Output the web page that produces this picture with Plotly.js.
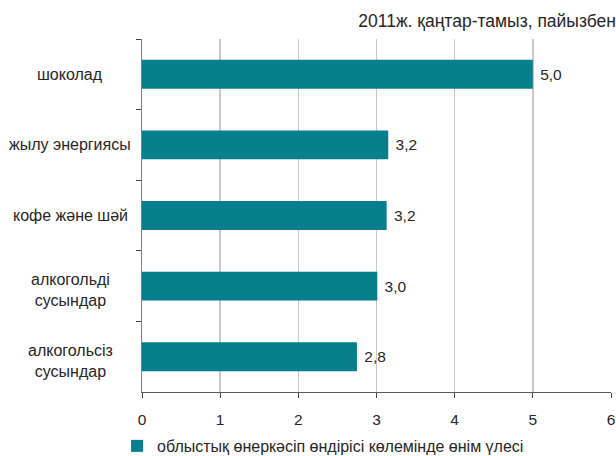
<!DOCTYPE html>
<html>
<head>
<meta charset="utf-8">
<script src="https://cdn.plot.ly/plotly-3.0.1.min.js"></script>
<style>
  html, body { margin: 0; padding: 0; background: #ffffff; }
  #chart { width: 616px; height: 456px; }
</style>
</head>
<body>
<div id="chart"></div>
<script>
// Data
const categories = [
  'шоколад',
  'жылу энергиясы',
  'кофе және шәй',
  'алкогольді<br>сусындар',
  'алкогольсіз<br>сусындар'
];
const values = [5.0, 3.15, 3.13, 3.01, 2.75];
const valueLabels = ['5,0', '3,2', '3,2', '3,0', '2,8'];
const seriesName = 'облыстық өнеркәсіп өндірісі көлемінде өнім үлесі';
const titleText = '2011ж. қаңтар-тамыз, пайызбен';
const xTicks = [0, 1, 2, 3, 4, 5, 6];

const FONT = 'Liberation Sans, Arial, sans-serif';
const TXT = '#262626';
const BAR = '#087f8c';

const trace = {
  type: 'bar',
  orientation: 'h',
  x: values,
  y: categories,
  name: seriesName,
  text: valueLabels,
  texttemplate: '\u00a0%{text}',
  textposition: 'outside',
  cliponaxis: false,
  textfont: { family: FONT, size: 15.5, color: TXT },
  marker: { color: BAR, line: { width: 0 } },
  hoverinfo: 'x+y',
  showlegend: true
};

const annotations = categories.map(c => ({
  xref: 'paper', yref: 'y',
  x: -0.153, y: c,
  text: c,
  showarrow: false,
  xanchor: 'center', yanchor: 'middle',
  align: 'center',
  yshift: c.indexOf('<br>') >= 0 ? -4 : 0,
  font: { family: FONT, size: 16, color: TXT }
}));

const layout = {
  width: 616, height: 456,
  margin: { l: 142, r: 5, t: 39, b: 64, pad: 0 },
  paper_bgcolor: '#ffffff',
  plot_bgcolor: '#ffffff',
  font: { family: FONT, size: 15, color: TXT },
  title: {
    text: titleText,
    x: 1, xref: 'container', xanchor: 'right',
    y: 1 - 21 / 456, yref: 'container', yanchor: 'middle',
    font: { family: FONT, size: 17.5, color: TXT }
  },
  bargap: 0.59,
  showlegend: true,
  legend: {
    orientation: 'h',
    x: 0.19, xref: 'container', xanchor: 'left',
    y: 0.022, yref: 'container', yanchor: 'middle',
    font: { family: FONT, size: 16, color: TXT },
    bgcolor: 'rgba(0,0,0,0)',
    itemwidth: 30
  },
  xaxis: {
    range: [0, 6],
    tickvals: xTicks,
    ticktext: xTicks.map(String),
    showgrid: true,
    gridcolor: '#c8c8c8',
    gridwidth: 1.5,
    zeroline: false,
    showline: true,
    linecolor: '#595959',
    linewidth: 1,
    ticks: 'outside',
    ticklen: 5,
    tickcolor: '#404040',
    ticklabelstandoff: 8,
    tickfont: { family: FONT, size: 15.5, color: TXT },
    fixedrange: true
  },
  yaxis: {
    type: 'category',
    autorange: 'reversed',
    showticklabels: false,
    showgrid: false,
    zeroline: false,
    showline: true,
    linecolor: '#7f7f7f',
    linewidth: 1.5,
    ticks: 'outside',
    tickson: 'boundaries',
    ticklen: 5,
    tickcolor: '#404040',
    fixedrange: true
  },
  annotations: annotations
};

Plotly.newPlot('chart', [trace], layout, { displayModeBar: false, staticPlot: true });
</script>
</body>
</html>
